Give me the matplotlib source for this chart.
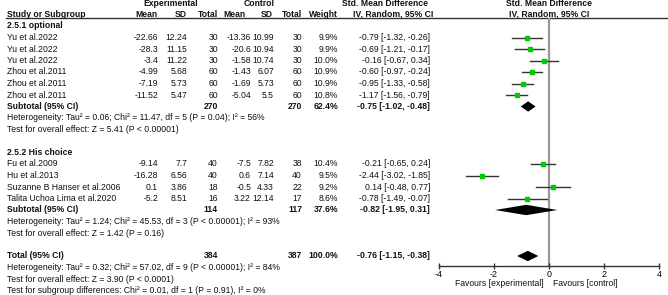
import matplotlib
matplotlib.use("Agg")
import matplotlib.pyplot as plt

plt.rcParams['font.family'] = ['Liberation Sans', 'DejaVu Sans']
plt.rcParams['font.size'] = 6.2

# 2.5.1 optional
studies1 = ["Yu et al.2022", "Yu et al.2022", "Yu et al.2022",
            "Zhou et al.2011", "Zhou et al.2011", "Zhou et al.2011"]
exp_mean1 = [-22.66, -28.3, -3.4, -4.99, -7.19, -11.52]
exp_sd1 = [12.24, 11.15, 11.22, 5.68, 5.73, 5.47]
exp_n1 = [30, 30, 30, 60, 60, 60]
ctl_mean1 = [-13.36, -20.6, -1.58, -1.43, -1.69, -5.04]
ctl_sd1 = [10.99, 10.94, 10.74, 6.07, 5.73, 5.5]
ctl_n1 = [30, 30, 30, 60, 60, 60]
weight1 = [9.9, 9.9, 10.0, 10.9, 10.9, 10.8]
smd1 = [-0.79, -0.69, -0.16, -0.60, -0.95, -1.17]
lo1 = [-1.32, -1.21, -0.67, -0.97, -1.33, -1.56]
hi1 = [-0.26, -0.17, 0.34, -0.24, -0.58, -0.79]

# 2.5.2 His choice
studies2 = ["Fu et al.2009", "Hu et al.2013", "Suzanne B Hanser et al.2006",
            "Talita Uchoa Lima et al.2020"]
exp_mean2 = [-9.14, -16.28, 0.1, -5.2]
exp_sd2 = [7.7, 6.56, 3.86, 8.51]
exp_n2 = [40, 40, 18, 16]
ctl_mean2 = [-7.5, 0.6, -0.5, 3.22]
ctl_sd2 = [7.82, 7.14, 4.33, 12.14]
ctl_n2 = [38, 40, 22, 17]
weight2 = [10.4, 9.5, 9.2, 8.6]
smd2 = [-0.21, -2.44, 0.14, -0.78]
lo2 = [-0.65, -3.02, -0.48, -1.49]
hi2 = [0.24, -1.85, 0.77, -0.07]

# pooled: (n exp, n ctl, weight, smd, lo, hi)
sub1 = (270, 270, 62.4, -0.75, -1.02, -0.48)
sub2 = (114, 117, 37.6, -0.82, -1.95, 0.31)
total = (384, 387, 100.0, -0.76, -1.15, -0.38)

het1 = ["Heterogeneity: Tau² = 0.06; Chi² = 11.47, df = 5 (P = 0.04); I² = 56%",
        "Test for overall effect: Z = 5.41 (P < 0.00001)"]
het2 = ["Heterogeneity: Tau² = 1.24; Chi² = 45.53, df = 3 (P < 0.00001); I² = 93%",
        "Test for overall effect: Z = 1.42 (P = 0.16)"]
het_tot = ["Heterogeneity: Tau² = 0.32; Chi² = 57.02, df = 9 (P < 0.00001); I² = 84%",
           "Test for overall effect: Z = 3.90 (P < 0.0001)",
           "Test for subgroup differences: Chi² = 0.01, df = 1 (P = 0.91), I² = 0%"]

xticks = [-4, -2, 0, 2, 4]

W, H = 668, 295
fig = plt.figure(figsize=(W / 100, H / 100), dpi=100)

# row r sits at pixel 26 + 11.5 r
r_top = -26 / 11.5
r_bot = (H - 26) / 11.5

tab = fig.add_axes([0, 0, 1, 1])
tab.set_xlim(0, W)
tab.set_ylim(r_bot, r_top)
tab.axis('off')

left, right = 438.6, 659.0
ax = fig.add_axes([left / W, 0, (right - left) / W, 1])
ax.set_xlim(-4, 4)
ax.set_ylim(r_bot, r_top)
ax.patch.set_alpha(0)
for s in ['top', 'left', 'right']:
    ax.spines[s].set_visible(False)
axis_row = (266 - 26) / 11.5
ax.spines['bottom'].set_position(('data', axis_row))
ax.spines['bottom'].set_color('#333333')
ax.spines['bottom'].set_linewidth(1.0)
ax.set_yticks([])
ax.set_xticks(xticks)
ax.set_xticklabels([str(t) for t in xticks])
ax.tick_params(axis='x', direction='inout', length=4.5, width=1.0,
               color='#333333', pad=0.5, labelsize=6.4)

head_row = (17.5 - 26) / 11.5
tab.plot([6, W], [head_row, head_row], color='#333333', lw=1.0)
ax.vlines(0, head_row, axis_row, color='#999999', lw=1.6, zorder=1)

# column right edges (pixels)
cx = dict(em=158, esd=187, en=218, cm=251, csd=274, cn=302, w=338, ci=430)

def txt(x, r, s, ha='right', bold=False):
    tab.text(x, r, s, ha=ha, va='center', fontsize=6.2,
             fontweight='bold' if bold else 'normal', color='#111111')

# headers
txt(171, -1.97, "Experimental", ha='center', bold=True)
txt(259, -1.97, "Control", ha='center', bold=True)
txt(385, -1.97, "Std. Mean Difference", ha='center', bold=True)
txt(549 , -1.97, "Std. Mean Difference", ha='center', bold=True)
txt(7, -1.0, "Study or Subgroup", ha='left', bold=True)
txt(157, -1.0, "Mean", bold=True)
txt(187, -1.0, "SD", bold=True)
txt(218, -1.0, "Total", bold=True)
txt(245, -1.0, "Mean", bold=True)
txt(273, -1.0, "SD", bold=True)
txt(302, -1.0, "Total", bold=True)
txt(338, -1.0, "Weight", bold=True)
txt(433, -1.0, "IV, Random, 95% CI", bold=True)
txt(549, -1.0, "IV, Random, 95% CI", ha='center', bold=True)


def diamond(r, est, lo, hi, h=0.45):
    ax.fill([lo, est, hi, est], [r, r - h, r, r + h], color='black', lw=0, zorder=3)


def group(r0, title, studies, em, esd, en, cm, csd, cn, w, smd, lo, hi, sub, het):
    txt(7, r0, title, ha='left', bold=True)
    for i in range(len(studies)):
        r = r0 + 1 + i
        txt(7, r, studies[i], ha='left')
        txt(cx['em'], r, str(em[i]))
        txt(cx['esd'], r, str(esd[i]))
        txt(cx['en'], r, str(en[i]))
        txt(cx['cm'], r, str(cm[i]))
        txt(cx['csd'], r, str(csd[i]))
        txt(cx['cn'], r, str(cn[i]))
        txt(cx['w'], r, f"{w[i]:.1f}%")
        txt(cx['ci'], r, f"{smd[i]:.2f} [{lo[i]:.2f}, {hi[i]:.2f}]")
        ax.plot([lo[i], hi[i]], [r, r], color='#333333', lw=1.0, zorder=2)
        ax.plot(smd[i], r, marker='s', ms=2.4 * (w[i] / 10) ** 0.5,
                color='#00cc00', mec='#00cc00', zorder=3)
    r = r0 + 1 + len(studies)
    txt(7, r, "Subtotal (95% CI)", ha='left', bold=True)
    txt(cx['en'], r, str(sub[0]), bold=True)
    txt(cx['cn'], r, str(sub[1]), bold=True)
    txt(cx['w'], r, f"{sub[2]:.1f}%", bold=True)
    txt(cx['ci'], r, f"{sub[3]:.2f} [{sub[4]:.2f}, {sub[5]:.2f}]", bold=True)
    diamond(r, sub[3], sub[4], sub[5])
    for j, line in enumerate(het):
        txt(7, r + 1 + j, line, ha='left')


group(0, "2.5.1 optional", studies1, exp_mean1, exp_sd1, exp_n1,
      ctl_mean1, ctl_sd1, ctl_n1, weight1, smd1, lo1, hi1, sub1, het1)
group(11, "2.5.2 His choice", studies2, exp_mean2, exp_sd2, exp_n2,
      ctl_mean2, ctl_sd2, ctl_n2, weight2, smd2, lo2, hi2, sub2, het2)

rt = 20
txt(7, rt, "Total (95% CI)", ha='left', bold=True)
txt(cx['en'], rt, str(total[0]), bold=True)
txt(cx['cn'], rt, str(total[1]), bold=True)
txt(cx['w'], rt, f"{total[2]:.1f}%", bold=True)
txt(cx['ci'], rt, f"{total[3]:.2f} [{total[4]:.2f}, {total[5]:.2f}]", bold=True)
diamond(rt, total[3], total[4], total[5])
for j, line in enumerate(het_tot):
    txt(7, rt + 1 + j, line, ha='left')

fav_row = (284 - 26) / 11.5
txt(544, fav_row, "Favours [experimental]", ha='right')
txt(553, fav_row, "Favours [control]", ha='left')

fig.savefig("out.png", dpi=100)
